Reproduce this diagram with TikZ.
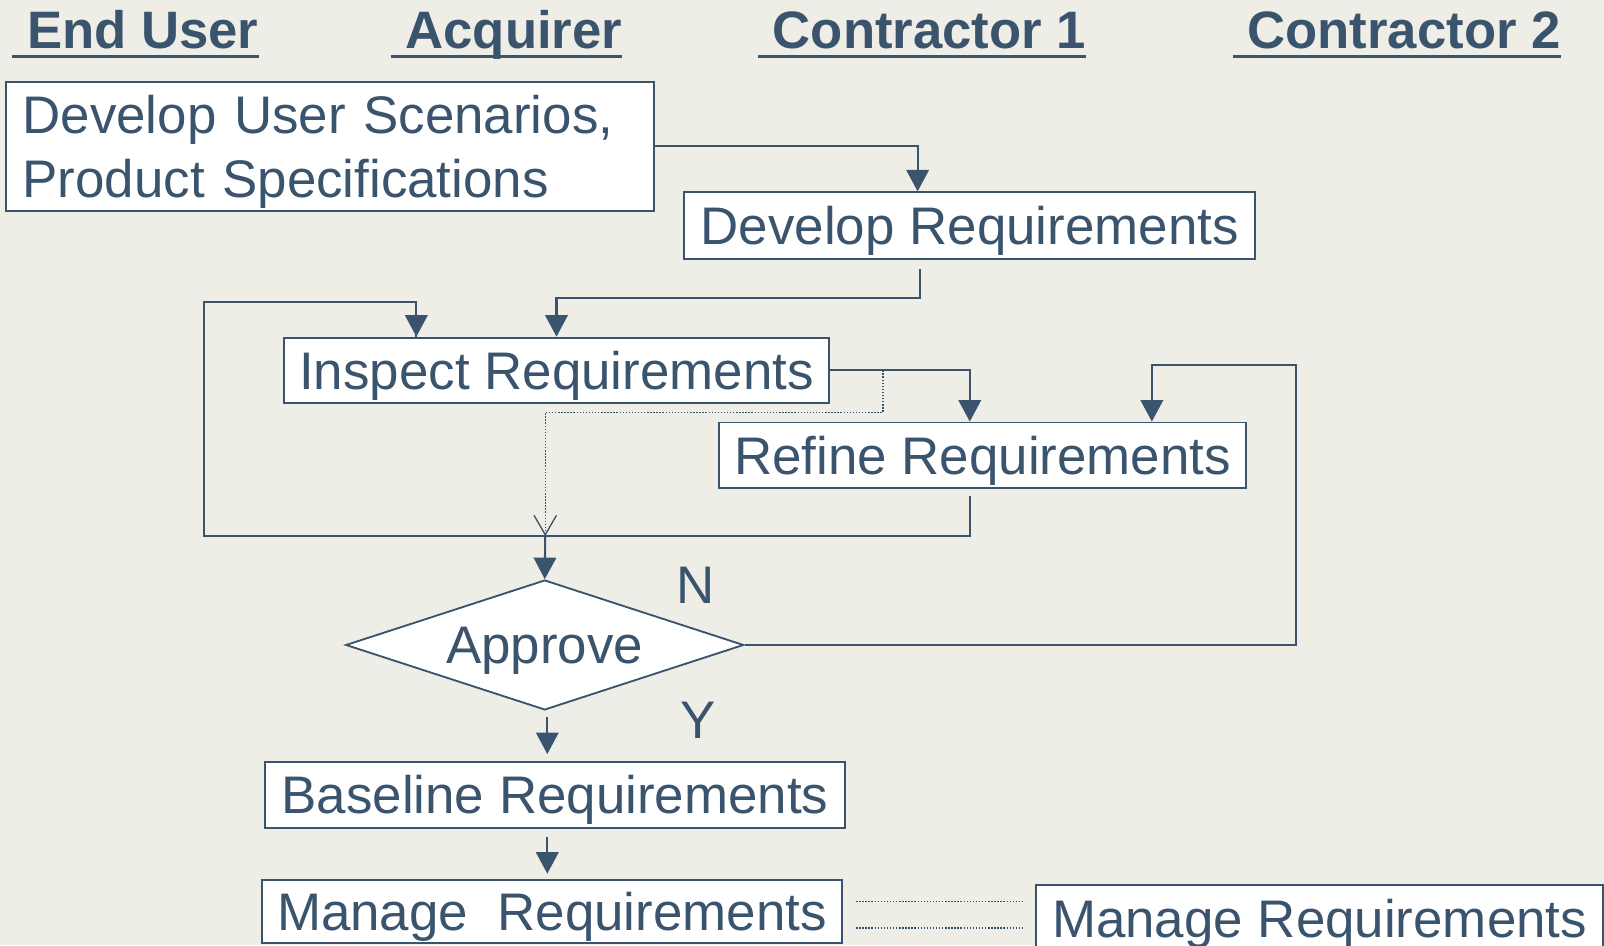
\documentclass[tikz,border=0pt]{standalone}
\usepackage{fontspec}
\setmainfont{Liberation Sans}
\usetikzlibrary{arrows.meta,shapes.geometric,calc}
\definecolor{bgc}{RGB}{238,237,230}
\definecolor{ink}{RGB}{58,84,110}
\begin{document}
\begin{tikzpicture}[x=1pt,y=-1pt,
  txt/.style={font=\fontsize{51.7}{62}\selectfont, text=ink},
  hdr/.style={font=\fontsize{51.5}{62}\selectfont\bfseries, text=ink, inner sep=0pt, anchor=base west},
  ul/.style={draw=ink, line width=3pt},
  procbox/.style={txt, draw=ink, fill=white, line width=1.8pt, inner sep=0pt, text height=37pt, text depth=0pt},
  conn/.style={draw=ink, line width=2pt},
  arr/.style={conn, -{Triangle[length=21pt,width=22pt]}},
  dotline/.style={draw=ink, line width=1.4pt, dash pattern=on 1.4pt off 1.6pt},
  openarr/.style={-{Straight Barb[length=19pt,width=22pt,line width=1.3pt]}}
]
\useasboundingbox (0,0) rectangle (1568,924);
\fill[bgc] (0,0) rectangle (1568,924);

% headers
\node[hdr] (hEU) at (12,47) {\ End User};
\node[hdr] (hAC) at (382,47) {\ Acquirer};
\node[hdr] (hC1) at (741,47) {\ Contractor 1};
\node[hdr] (hC2) at (1205,47) {\ Contractor 2};
\foreach \h in {hEU,hAC,hC1,hC2}
  \draw[ul] ($(\h.base west)+(0,8)$) -- ($(\h.base east)+(0,8)$);

% boxes
\node[txt, draw=ink, fill=white, line width=1.8pt, align=left, text width=601pt,
      inner xsep=16pt, inner ysep=0pt, minimum width=633pt, minimum height=126pt]
      (dus) at (322.5,143) {\rule{0pt}{48pt}Develop User Scenarios,\\Product Specifications};
\node[procbox, minimum width=558pt, minimum height=65pt] (dr) at (948,220.5) {Develop Requirements};
\node[procbox, minimum width=532pt, minimum height=64pt] (ins) at (544,362) {Inspect Requirements};
\node[procbox, minimum width=515pt, minimum height=64pt] (ref) at (960.5,445) {Refine Requirements};
\node[diamond, draw=ink, fill=white, line width=1.8pt, txt, aspect=3.06, inner sep=0pt,
      minimum width=389pt, minimum height=127pt, text height=37pt, text depth=0pt]
      (apr) at (532.5,630.5) {Approve};
\node[procbox, minimum width=567pt, minimum height=64pt] (bl) at (542.5,777) {Baseline Requirements};
\node[procbox, minimum width=567pt, minimum height=62pt] (mg1) at (539.5,891) {Manage\ \ Requirements};
\node[procbox, minimum width=554pt, minimum height=65pt] (mg2) at (1290,897.5) {Manage Requirements};

% labels
\node[txt] (lN) at (680,572) {N};
\node[txt] (lY) at (682,704) {Y};

% connectors
\coordinate (j) at (533,524);
\coordinate (ds) at (863,362);

\draw[arr] (dus.east) -| ([xshift=-51pt]dr.north);
\draw[arr] ($(dr.south)+(-49,9)$) -- ($(dr.south)+(-49,37)$) -| (ins.north);
\draw[conn] ($(ref.south)+(-12,7)$) |- (199,524) -- (199,295) -| ($(ins.north)+(-137,0)$);
\draw[arr] (199,295) -| ($(ins.north)+(-137,0)$);
\draw[arr] (j) -- (apr.north);
\draw[arr] (ins.east) -| ($(ref.north)+(-12.5,0)$);
\draw[dotline, openarr] (ds) |- (533,403) -- (j);
\draw[arr] (apr.east) -| (1267,357) -| ($(ref.north)+(165.5,0)$);
\draw[arr] ($(apr.south)+(2.5,6)$) -- ($(apr.south |- bl.north)+(2.5,-7)$);
\draw[arr] ($(apr.south |- bl.south)+(2.5,8)$) -- ($(apr.south |- mg1.north)+(2.5,-5)$);
\draw[dotline] ($(mg1.north east)+(13,22)$) -- ($(mg2.north west)+(-11,17)$);
\draw[dotline] ($(mg1.north east)+(13,48)$) -- ($(mg2.north west)+(-11,43)$);
\end{tikzpicture}
\end{document}
